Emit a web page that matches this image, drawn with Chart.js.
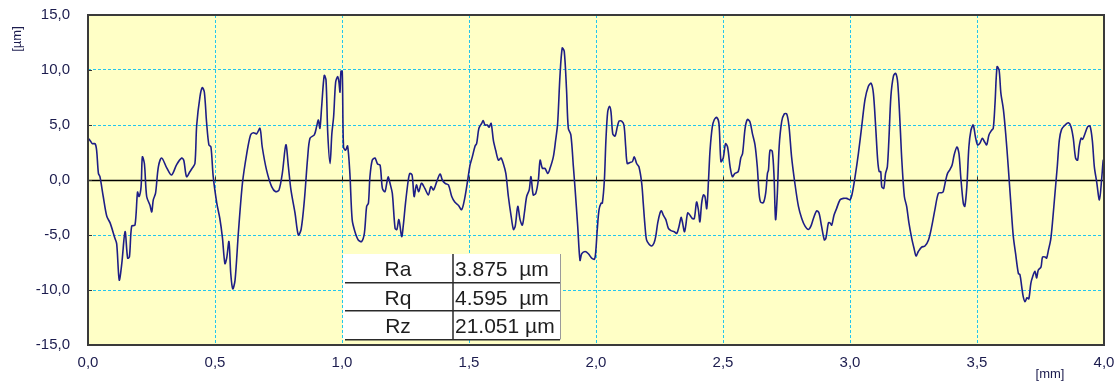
<!DOCTYPE html>
<html>
<head>
<meta charset="utf-8">
<script src="https://cdn.jsdelivr.net/npm/chart.js@4.4.0/dist/chart.umd.min.js"></script>
<style>
  html, body { margin: 0; padding: 0; background: #ffffff; }
  canvas { display: block; }
</style>
</head>
<body>
<canvas id="profile" width="1116" height="382"></canvas>
<script>
// Roughness profile: position along the trace [mm] and height [µm]
const positionMm = [
  0.000,0.008,0.017,0.028,0.034,0.041,0.047,0.060,0.074,0.087,0.106,0.113,0.123,0.133,0.146,0.156,0.163,0.172,0.185,0.195,
  0.201,0.209,0.214,0.222,0.231,0.244,0.251,0.257,0.266,0.277,0.290,0.310,0.329,0.349,0.369,0.377,0.388,0.401,0.411,0.421,
  0.428,0.441,0.450,0.458,0.467,0.476,0.484,0.493,0.507,0.519,0.529,0.539,0.546,0.555,0.562,0.570,0.579,0.592,0.608,0.625,
  0.640,0.651,0.664,0.677,0.686,0.703,0.723,0.739,0.752,0.765,0.779,0.789,0.799,0.815,0.828,0.839,0.852,0.865,0.874,0.891,
  0.900,0.907,0.913,0.920,0.930,0.937,0.944,0.953,0.960,0.967,0.975,0.983,0.988,0.992,0.996,1.001,1.006,1.014,1.022,1.031,
  1.040,1.051,1.064,1.077,1.088,1.097,1.104,1.110,1.119,1.130,1.140,1.150,1.159,1.169,1.176,1.182,1.189,1.198,1.209,1.216,
  1.224,1.235,1.241,1.250,1.261,1.267,1.276,1.284,1.293,1.302,1.313,1.326,1.340,1.350,1.360,1.373,1.386,1.395,1.406,1.419,
  1.432,1.444,1.458,1.471,1.482,1.495,1.504,1.513,1.524,1.530,1.539,1.550,1.556,1.563,1.572,1.579,1.587,1.596,1.605,1.616,
  1.626,1.635,1.645,1.655,1.666,1.675,1.682,1.692,1.701,1.710,1.718,1.727,1.737,1.744,1.753,1.763,1.773,1.780,1.789,1.799,
  1.810,1.819,1.832,1.841,1.849,1.858,1.867,1.875,1.884,1.891,1.901,1.911,1.917,1.928,1.937,1.944,1.957,1.970,1.983,1.994,
  1.999,2.005,2.012,2.020,2.025,2.033,2.039,2.046,2.053,2.059,2.066,2.075,2.084,2.091,2.101,2.110,2.117,2.123,2.134,2.143,
  2.151,2.160,2.169,2.180,2.186,2.193,2.199,2.209,2.219,2.228,2.235,2.243,2.252,2.258,2.265,2.275,2.285,2.295,2.308,2.318,
  2.327,2.335,2.340,2.348,2.353,2.361,2.370,2.379,2.387,2.396,2.403,2.409,2.416,2.423,2.429,2.436,2.443,2.449,2.458,2.466,
  2.475,2.484,2.492,2.501,2.510,2.518,2.528,2.537,2.547,2.560,2.570,2.577,2.587,2.596,2.606,2.616,2.626,2.635,2.642,2.648,
  2.659,2.668,2.675,2.679,2.685,2.694,2.701,2.707,2.714,2.721,2.731,2.741,2.751,2.760,2.770,2.783,2.797,2.810,2.823,2.836,
  2.846,2.856,2.869,2.878,2.888,2.899,2.905,2.915,2.921,2.928,2.937,2.947,2.961,2.974,2.987,3.000,3.009,3.020,3.033,3.046,
  3.059,3.072,3.083,3.092,3.101,3.109,3.115,3.121,3.125,3.133,3.140,3.147,3.153,3.161,3.171,3.180,3.188,3.197,3.204,3.214,
  3.223,3.232,3.243,3.252,3.260,3.269,3.282,3.295,3.309,3.322,3.335,3.348,3.361,3.367,3.377,3.384,3.394,3.402,3.410,3.421,
  3.429,3.436,3.446,3.452,3.460,3.468,3.476,3.485,3.494,3.502,3.511,3.521,3.529,3.538,3.547,3.557,3.564,3.571,3.579,3.587,
  3.594,3.604,3.613,3.623,3.634,3.643,3.652,3.663,3.669,3.676,3.682,3.689,3.697,3.704,3.712,3.719,3.728,3.735,3.741,3.752,
  3.758,3.768,3.774,3.781,3.790,3.797,3.807,3.816,3.824,3.833,3.847,3.860,3.870,3.879,3.888,3.896,3.902,3.910,3.916,3.925,
  3.936,3.945,3.954,3.962,3.971,3.982,3.991,3.997,4.000
];
const heightUm = [
  3.8,3.6,3.3,3.3,2.7,0.6,0.3,-1.5,-3.3,-3.9,-5.3,-5.8,-9.1,-7.6,-4.7,-7.1,-7.0,-4.2,-4.1,-1.1,
  -1.5,-0.6,2.1,1.5,-1.5,-2.3,-2.9,-1.8,-1.2,1.2,2.0,1.1,0.45,1.4,2.0,1.8,0.3,0.75,1.1,1.5,
  5.0,7.6,8.4,8.0,5.2,3.2,3.0,0.3,-2.1,-3.5,-5.2,-7.6,-7.1,-5.6,-8.5,-9.9,-9.1,-4.8,-0.3,2.4,
  4.1,4.3,4.2,4.7,3.0,0.9,-0.6,-1.06,-0.9,0.6,3.2,1.2,-0.9,-3.0,-5.0,-4.5,-1.8,2.1,3.8,4.1,
  4.85,5.45,4.7,6.7,9.5,9.1,4.2,1.5,4.2,5.75,8.9,9.4,8.9,8.0,9.9,9.85,3.0,2.7,3.1,0.6,
  -3.6,-4.7,-5.45,-5.6,-4.85,-2.4,-2.1,0.3,1.8,2.0,1.45,1.36,-0.76,-1.06,-0.3,0.3,-0.3,-1.2,-4.4,-4.5,
  -3.6,-5.15,-4.2,-2.1,0.0,0.6,0.45,-1.5,-0.45,-1.06,-0.3,-0.76,-1.36,-0.6,-0.9,-0.15,0.55,0.0,-0.3,-0.45,
  -1.5,-2.0,-2.3,-2.7,-1.8,0.0,1.36,2.1,3.1,3.3,4.7,5.15,5.4,5.0,5.0,4.8,5.15,3.6,2.7,1.8,
  2.0,1.5,0.6,-1.5,-3.3,-4.5,-4.2,-2.4,-3.6,-4.1,-3.0,-1.5,-0.9,0.3,-1.36,-1.2,0.0,1.8,1.06,1.06,
  0.6,1.06,2.1,3.6,5.15,9.4,12.0,11.7,8.2,4.7,4.1,1.2,-0.6,-4.2,-7.3,-6.7,-6.5,-6.7,-7.1,-7.2,
  -6.5,-4.5,-2.7,-2.1,-2.1,0.0,3.6,6.2,6.7,6.2,4.2,4.0,4.85,5.36,5.36,5.0,3.0,1.5,1.6,1.67,
  2.1,1.5,1.2,-0.3,-2.1,-4.2,-5.45,-5.85,-6.0,-5.75,-5.15,-3.9,-3.0,-2.8,-3.2,-3.6,-4.4,-4.6,-4.7,-4.85,
  -4.2,-3.4,-3.8,-4.7,-4.2,-3.0,-3.2,-3.5,-3.5,-2.0,-2.7,-3.8,-2.1,-1.36,-1.5,-2.6,0.0,2.7,4.85,5.5,
  5.7,5.15,1.67,2.0,3.3,3.0,1.2,0.3,0.6,0.76,2.0,2.4,4.7,5.5,5.3,4.2,3.2,1.2,-1.2,-2.0,
  -2.06,-1.2,0.6,0.9,2.7,2.6,0.3,-3.6,-1.2,3.0,5.3,6.0,6.0,4.85,2.1,-0.3,-2.4,-3.5,-4.2,-4.5,
  -4.2,-3.5,-2.8,-3.0,-4.2,-5.45,-5.3,-3.9,-3.9,-4.1,-3.2,-2.6,-1.8,-1.67,-1.67,-1.8,-1.2,0.3,2.4,4.85,
  7.3,8.5,8.8,7.9,4.85,1.8,0.76,0.76,-0.6,-0.76,0.6,1.2,3.6,7.6,9.45,9.7,8.8,5.15,1.8,-1.5,
  -2.4,-3.9,-5.3,-6.2,-6.9,-6.5,-6.1,-6.0,-5.45,-4.2,-2.6,-1.2,-1.15,-1.06,0.0,0.6,0.97,1.36,2.27,3.0,
  2.4,0.3,-2.1,-2.4,-0.6,3.0,4.5,5.0,3.9,3.2,3.33,3.8,3.5,3.2,4.1,4.5,4.7,7.0,10.3,10.0,
  7.9,6.4,4.2,1.2,-2.4,-5.15,-6.7,-8.5,-8.6,-9.7,-10.6,-11.06,-10.7,-10.8,-9.4,-8.8,-8.3,-8.9,-8.2,-7.9,
  -7.0,-7.0,-7.1,-6.4,-5.45,-3.9,-1.2,1.2,3.6,4.6,5.0,5.2,4.85,3.8,2.0,1.8,3.0,3.8,3.7,4.2,
  4.85,4.9,3.6,1.2,-0.15,-1.8,0.15,1.8,1.8
];

// Axis ticks
const xTicksMm = [0, 0.5, 1, 1.5, 2, 2.5, 3, 3.5, 4];
const yTicksUm = [-15, -10, -5, 0, 5, 10, 15];

// Roughness parameters shown in the inset table
const paramNames = ['Ra', 'Rq', 'Rz'];
const paramValues = [3.875, 4.595, 21.051];
const paramUnit = 'µm';

const fmtComma = v => v.toFixed(1).replace('.', ',');
const GRID = '#22c6ee';
const INK = '#1c1c4e';

const framePlugin = {
  id: 'frame',
  beforeDraw(chart) {
    const { ctx, chartArea: a } = chart;
    ctx.save();
    ctx.fillStyle = '#ffffff';
    ctx.fillRect(0, 0, chart.width, chart.height);
    ctx.fillStyle = '#ffffc6';
    ctx.fillRect(a.left, a.top, a.right - a.left, a.bottom - a.top);
    ctx.restore();
  },
  beforeDatasetsDraw(chart) {
    const { ctx, chartArea: a, scales } = chart;
    const y0 = Math.round(scales.y.getPixelForValue(0)) + 0.5;
    ctx.save();
    ctx.strokeStyle = '#000000';
    ctx.lineWidth = 1.3;
    ctx.beginPath();
    ctx.moveTo(a.left, y0);
    ctx.lineTo(a.right, y0);
    ctx.stroke();
    // small tick marks on the zero line and left edge
    ctx.lineWidth = 1;
    ctx.strokeStyle = '#333333';
    ctx.beginPath();
    xTicksMm.forEach(v => {
      const px = Math.round(scales.x.getPixelForValue(v)) + 0.5;
      ctx.moveTo(px, y0);
      ctx.lineTo(px, y0 - 4);
    });
    yTicksUm.forEach(v => {
      const py = Math.round(scales.y.getPixelForValue(v)) + 0.5;
      ctx.moveTo(a.left, py);
      ctx.lineTo(a.left + 4, py);
    });
    ctx.stroke();
    ctx.restore();
  },
  afterDatasetsDraw(chart) {
    const { ctx, chartArea: a } = chart;
    ctx.save();
    // parameter table
    const tx = 343, ty = 254, tw = 218, rowH = 28.5, colX = 453;
    ctx.fillStyle = '#ffffff';
    ctx.fillRect(tx, ty, tw, rowH * 3);
    ctx.strokeStyle = '#9a9a9a';
    ctx.lineWidth = 1;
    ctx.beginPath();
    ctx.moveTo(tx + tw - 0.5, ty);
    ctx.lineTo(tx + tw - 0.5, ty + rowH * 3);
    ctx.stroke();
    ctx.strokeStyle = '#2a2a2a';
    ctx.lineWidth = 1.5;
    ctx.beginPath();
    for (let i = 1; i <= 3; i++) {
      const ly = Math.round(ty + rowH * i) - 0.25;
      ctx.moveTo(tx + 2, ly);
      ctx.lineTo(tx + tw - 1, ly);
    }
    ctx.moveTo(colX, ty);
    ctx.lineTo(colX, ty + rowH * 3);
    ctx.stroke();
    ctx.fillStyle = '#1e1e1e';
    ctx.font = '21px "Liberation Sans", Arial, sans-serif';
    ctx.textBaseline = 'alphabetic';
    paramNames.forEach((n, i) => {
      const by = ty + rowH * i + 22;
      ctx.textAlign = 'center';
      ctx.fillText(n, 398, by);
      ctx.textAlign = 'left';
      const v = paramValues[i].toFixed(3);
      ctx.fillText(v + (v.length < 6 ? '  ' : ' ') + paramUnit, 455, by);
    });
    // plot frame
    ctx.strokeStyle = '#3a3a3a';
    ctx.lineWidth = 2;
    ctx.strokeRect(a.left, a.top, a.right - a.left, a.bottom - a.top);
    // axis units
    ctx.fillStyle = INK;
    ctx.font = '13px "Liberation Sans", Arial, sans-serif';
    ctx.textAlign = 'center';
    ctx.textBaseline = 'middle';
    ctx.fillText('[mm]', 1050, 374);
    ctx.translate(17, 39);
    ctx.rotate(-Math.PI / 2);
    ctx.fillText('[µm]', 0, 0);
    ctx.restore();
  }
};

new Chart(document.getElementById('profile'), {
  type: 'line',
  data: {
    datasets: [{
      data: positionMm.map((x, i) => ({ x, y: heightUm[i] })),
      borderColor: '#1e1e86',
      borderWidth: 1.6,
      pointRadius: 0,
      tension: 0.3,
      fill: false
    }]
  },
  options: {
    responsive: false,
    animation: false,
    events: [],
    layout: { autoPadding: false, padding: { left: 0, right: 12, top: 15, bottom: 0 } },
    plugins: { legend: { display: false }, tooltip: { enabled: false } },
    scales: {
      x: {
        type: 'linear',
        min: 0, max: 4,
        afterBuildTicks: s => { s.ticks = xTicksMm.map(value => ({ value })); },
        afterFit: s => { s.height = 37; s.paddingLeft = 0; s.paddingRight = 0; },
        ticks: {
          callback: v => fmtComma(v),
          color: INK,
          font: { family: '"Liberation Sans", Arial, sans-serif', size: 15 },
          padding: 9,
          maxRotation: 0,
          autoSkip: false
        },
        grid: {
          color: c => (c.tick && (c.tick.value === 0 || c.tick.value === 4)) ? 'rgba(0,0,0,0)' : GRID,
          lineWidth: 1,
          drawTicks: false
        },
        border: { display: false, dash: [3, 2] }
      },
      y: {
        type: 'linear',
        min: -15, max: 15,
        afterBuildTicks: s => { s.ticks = yTicksUm.map(value => ({ value })); },
        afterFit: s => { s.width = 88; s.paddingTop = 0; s.paddingBottom = 0; },
        ticks: {
          callback: v => fmtComma(v),
          color: INK,
          font: { family: '"Liberation Sans", Arial, sans-serif', size: 15 },
          padding: 18,
          autoSkip: false
        },
        grid: {
          color: c => (c.tick && Math.abs(c.tick.value) !== 15 && c.tick.value !== 0) ? GRID : 'rgba(0,0,0,0)',
          lineWidth: 1,
          drawTicks: false
        },
        border: { display: false, dash: [3, 2] }
      }
    }
  },
  plugins: [framePlugin]
});
</script>
</body>
</html>
